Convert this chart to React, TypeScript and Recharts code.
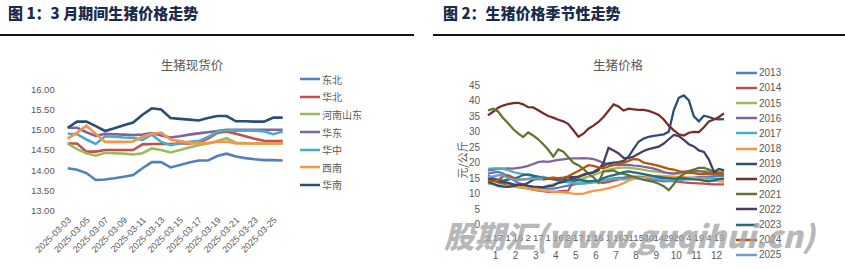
import React from "react";
import { LineChart, Line, XAxis, YAxis } from "recharts";

const FONT = '"Liberation Sans", "Noto Sans CJK SC", sans-serif';
const GRAY = "#595959";

// ---- 图1：3月期间生猪现货价 ----
const spotDates = [
  "2025-03-03", "2025-03-04", "2025-03-05", "2025-03-06", "2025-03-07", "2025-03-08",
  "2025-03-09", "2025-03-10", "2025-03-11", "2025-03-12", "2025-03-13", "2025-03-14",
  "2025-03-15", "2025-03-16", "2025-03-17", "2025-03-18", "2025-03-19", "2025-03-20",
  "2025-03-21", "2025-03-22", "2025-03-23", "2025-03-24", "2025-03-25", "2025-03-26",
];
const northeast = [14.05, 14.01, 13.93, 13.76, 13.77, 13.8, 13.84, 13.88, 14.05, 14.2, 14.2, 14.07, 14.13, 14.19, 14.24, 14.24, 14.35, 14.41, 14.34, 14.3, 14.27, 14.25, 14.25, 14.24];
const north = [14.66, 14.66, 14.46, 14.46, 14.5, 14.5, 14.5, 14.5, 14.64, 14.65, 14.65, 14.65, 14.66, 14.66, 14.68, 14.78, 14.92, 14.96, 14.9, 14.84, 14.78, 14.73, 14.72, 14.72];
const henanShandong = [14.66, 14.52, 14.42, 14.36, 14.43, 14.42, 14.41, 14.39, 14.42, 14.54, 14.5, 14.44, 14.5, 14.56, 14.62, 14.66, 14.72, 14.79, 14.68, 14.67, 14.66, 14.66, 14.66, 14.66];
const east = [15.05, 15.05, 14.94, 14.85, 14.9, 14.89, 14.88, 14.87, 14.88, 14.92, 14.86, 14.81, 14.84, 14.88, 14.91, 14.94, 14.97, 15.0, 15.0, 15.0, 15.0, 15.0, 15.0, 15.0];
const central = [14.9, 14.89, 14.76, 14.65, 14.84, 14.83, 14.81, 14.8, 14.75, 14.88, 14.7, 14.62, 14.66, 14.7, 14.72, 14.82, 14.95, 14.99, 14.98, 14.98, 14.98, 14.96, 14.89, 14.96];
const southwest = [14.78, 14.93, 15.1, 14.9, 14.7, 14.7, 14.7, 14.71, 14.83, 14.9, 14.93, 14.76, 14.72, 14.68, 14.67, 14.67, 14.7, 14.71, 14.66, 14.66, 14.66, 14.66, 14.66, 14.67];
const south = [15.05, 15.2, 15.2, 15.09, 14.97, 15.04, 15.11, 15.18, 15.37, 15.53, 15.5, 15.29, 15.27, 15.25, 15.23, 15.29, 15.34, 15.34, 15.21, 15.21, 15.2, 15.2, 15.3, 15.3];
const spotTicks = [13, 13.5, 14, 14.5, 15, 15.5, 16];

const spotSeries = [
  { name: "东北", values: northeast, color: "#4F81BD" },
  { name: "华北", values: north, color: "#C0504D" },
  { name: "河南山东", values: henanShandong, color: "#9BBB59" },
  { name: "华东", values: east, color: "#8064A2" },
  { name: "华中", values: central, color: "#4BACC6" },
  { name: "西南", values: southwest, color: "#F79646" },
  { name: "华南", values: south, color: "#2C4D75" },
];

// ---- 图2：生猪价格季节性走势 ----
const seasonMonths = [1, 2, 3, 4, 5, 6, 7, 8, 9, 10, 11, 12];
const seasonDayTicks = ["2", "17", "1", "16", "2", "17", "1", "16", "2", "17", "1", "16", "1", "16", "31", "15", "30", "14", "29", "20", "4", "19", "4", "19"];
const seasonTicks = [0, 5, 10, 15, 20, 25, 30, 35, 40, 45];

const y2013 = [16.5, 16.8, 17.0, 16.5, 15.5, 14.5, 13.5, 13.0, 12.5, 12.0, 11.8, 11.8, 11.6, 11.6, 11.9, 12.3, 12.6, 12.9, 13.2, 13.3, 13.5, 13.7, 13.9, 14.2, 14.6, 14.9, 15.1, 15.2, 15.4, 15.5, 15.5, 15.4, 15.3, 15.2, 15.1, 15.0, 15.0, 14.9, 14.9, 15.0, 15.1, 15.2, 15.3, 15.4, 15.5, 15.6, 15.7, 15.8];
const y2014 = [14.5, 14.2, 13.6, 13.2, 13.0, 12.8, 12.5, 12.0, 11.6, 11.3, 11.0, 10.8, 10.6, 10.6, 10.7, 10.9, 11.0, 14.0, 14.3, 14.3, 14.0, 13.8, 13.6, 13.5, 13.8, 14.2, 14.6, 15.0, 15.2, 15.3, 15.1, 14.8, 14.6, 14.3, 14.2, 14.0, 14.1, 14.0, 13.8, 13.6, 13.5, 13.4, 13.3, 13.2, 13.1, 13.0, 13.0, 13.0];
const y2015 = [13.2, 13.0, 12.8, 12.6, 12.5, 12.3, 12.0, 11.8, 11.7, 11.8, 11.9, 12.1, 12.6, 13.0, 13.4, 13.8, 14.1, 14.3, 14.6, 15.0, 15.5, 16.0, 16.6, 17.2, 17.8, 18.1, 18.3, 18.4, 18.4, 18.2, 18.0, 17.7, 17.4, 17.2, 17.0, 16.8, 16.6, 16.5, 16.5, 16.6, 16.8, 17.0, 17.2, 17.3, 17.3, 17.2, 17.1, 17.0];
const y2016 = [17.5, 17.7, 18.0, 18.1, 18.2, 18.1, 18.3, 18.6, 19.0, 19.6, 20.2, 20.4, 20.3, 20.6, 20.9, 21.1, 21.3, 21.4, 21.4, 21.5, 21.4, 21.2, 20.6, 20.0, 19.5, 19.3, 19.2, 19.4, 19.3, 19.1, 19.0, 18.7, 18.4, 18.1, 17.6, 17.0, 16.6, 16.5, 16.8, 17.1, 17.3, 17.4, 17.3, 17.0, 16.8, 16.6, 16.6, 16.5];
const y2017 = [18.0, 18.2, 18.2, 18.0, 17.6, 17.0, 16.6, 16.3, 16.0, 15.7, 15.5, 15.4, 15.0, 14.6, 14.2, 13.8, 13.6, 13.4, 13.2, 13.3, 13.4, 13.6, 13.9, 14.2, 14.6, 14.8, 14.8, 14.6, 14.8, 15.0, 15.1, 15.0, 14.9, 14.7, 14.5, 14.4, 14.3, 14.4, 14.3, 14.5, 14.6, 14.8, 15.0, 15.1, 15.0, 14.9, 14.7, 14.6];
const y2018 = [15.2, 14.8, 14.2, 14.0, 13.3, 13.0, 12.6, 12.2, 11.8, 11.4, 11.1, 11.0, 10.8, 10.6, 10.5, 10.4, 10.2, 10.0, 9.9, 10.0, 10.5, 10.9, 11.1, 11.4, 11.8, 12.2, 12.7, 13.4, 14.2, 14.8, 15.1, 15.2, 15.4, 15.5, 15.8, 15.7, 15.6, 15.5, 15.4, 15.3, 15.2, 15.0, 14.9, 14.7, 14.4, 14.2, 14.0, 14.0];
const y2019 = [13.8, 13.2, 12.5, 12.3, 12.2, 12.4, 12.8, 12.8, 13.5, 14.5, 14.8, 14.6, 14.8, 14.8, 14.7, 15.0, 15.3, 15.3, 15.5, 16.0, 16.5, 17.0, 18.0, 19.0, 19.8, 20.0, 20.2, 20.6, 22.0, 24.5, 26.8, 27.8, 28.4, 28.7, 28.9, 29.2, 30.0, 37.0, 41.0, 41.8, 40.2, 35.0, 33.4, 35.2, 34.8, 34.2, 34.0, 34.1];
const y2020 = [35.3, 36.5, 37.8, 38.5, 39.0, 39.3, 39.4, 38.9, 38.0, 37.9, 37.0, 36.0, 35.1, 34.6, 33.9, 33.4, 32.5, 30.5, 28.4, 29.4, 31.0, 32.0, 33.2, 34.8, 36.8, 38.9, 38.2, 36.9, 37.5, 37.3, 37.1, 37.1, 36.8, 36.2, 35.5, 34.0, 32.0, 30.5, 29.2, 28.8, 29.7, 30.0, 29.9, 31.5, 33.4, 34.0, 34.8, 36.0];
const y2021 = [36.9, 37.5, 36.6, 34.5, 32.8, 30.9, 29.5, 28.3, 29.8, 28.8, 27.6, 26.0, 24.2, 22.0, 24.3, 23.6, 21.8, 20.0, 19.2, 18.0, 16.4, 15.3, 13.5, 17.2, 17.3, 17.5, 16.7, 16.4, 16.0, 15.4, 14.9, 14.4, 14.1, 13.8, 13.2, 12.4, 11.1, 13.0, 15.3, 16.3, 17.3, 17.8, 18.3, 18.3, 17.8, 17.0, 16.7, 16.5];
const y2022 = [15.0, 14.5, 14.0, 13.8, 13.5, 13.0, 12.8, 12.9, 12.5, 12.3, 12.2, 12.0, 12.4, 12.6, 13.5, 13.8, 14.5, 15.0, 15.4, 16.2, 16.6, 16.8, 17.5, 20.0, 24.8, 24.0, 23.0, 21.6, 21.5, 22.0, 22.9, 23.8, 24.4, 24.8, 25.2, 26.2, 27.6, 29.0, 28.6, 27.4, 26.0, 25.3, 24.0, 23.5, 21.0, 17.0, 18.0, 17.5];
const y2023 = [15.8, 15.0, 14.5, 14.2, 14.5, 14.9, 15.3, 16.0, 16.2, 15.8, 15.4, 15.0, 14.8, 14.7, 14.5, 14.6, 14.4, 14.3, 14.5, 14.2, 14.0, 14.1, 14.3, 15.0, 15.6, 16.0, 16.4, 17.0, 17.2, 16.9, 16.6, 16.3, 16.0, 15.7, 15.4, 15.2, 15.0, 14.8, 14.9, 15.0, 14.8, 14.6, 14.5, 14.2, 14.0, 14.3, 14.7, 14.9];
const y2024 = [14.2, 14.0, 14.3, 15.6, 16.0, 15.2, 14.5, 14.6, 14.8, 15.0, 15.0, 14.9, 15.0, 15.2, 15.0, 15.2, 15.6, 16.5, 17.3, 18.3, 19.2, 19.0, 18.5, 18.2, 18.8, 19.2, 19.6, 20.0, 20.6, 21.2, 21.0, 20.0, 19.7, 19.4, 19.0, 18.5, 18.0, 17.8, 17.3, 17.0, 16.7, 16.6, 16.3, 16.3, 16.5, 16.2, 16.3, 16.3];
const y2025 = [15.4, 15.6, 15.9, 16.0, 15.0, 14.6, 14.5, 14.6, 14.7, 14.8, 14.9, 14.7];

const seasonSeries = [
  { name: "2013", values: y2013, color: "#4F81BD" },
  { name: "2014", values: y2014, color: "#C0504D" },
  { name: "2015", values: y2015, color: "#9BBB59" },
  { name: "2016", values: y2016, color: "#8064A2" },
  { name: "2017", values: y2017, color: "#4BACC6" },
  { name: "2018", values: y2018, color: "#F79646" },
  { name: "2019", values: y2019, color: "#2C4D75" },
  { name: "2020", values: y2020, color: "#772C2A" },
  { name: "2021", values: y2021, color: "#5F7530" },
  { name: "2022", values: y2022, color: "#4D3B62" },
  { name: "2023", values: y2023, color: "#276A7C" },
  { name: "2024", values: y2024, color: "#B65708" },
  { name: "2025", values: y2025, color: "#729ACA" },
];

const spotData = spotDates.map((date, i) => {
  const row: Record<string, any> = { date };
  spotSeries.forEach((s) => (row[s.name] = s.values[i]));
  return row;
});

const SLOTS = seasonMonths.length * 4;
const seasonData = Array.from({ length: SLOTS }, (_, i) => {
  const row: Record<string, any> = { slot: i };
  seasonSeries.forEach((s) => (row[s.name] = s.values[i]));
  return row;
});

// layout
const SPOT_W = 420;
const SPOT_H = 269;
const SPOT_TOP = 89.3;
const SPOT_BOTTOM = 210.7;
const SPOT_LEFT = 67.7;
const SPOT_RIGHT = 282.7;

const SEA_X = 430;
const SEA_W = 415;
const SEA_H = 269;
const SEA_TOP = 85.5;
const SEA_BOTTOM = 224.5;
const SEA_LEFT = 58;
const SEA_RIGHT = 294;
const SEA_STEP = (SEA_RIGHT - SEA_LEFT) / (SLOTS - 1);

function SpotDateTick({ x, payload }: any) {
  const ax = x + 4;
  const ay = SPOT_BOTTOM + 10;
  return (
    <text x={ax} y={ay} transform={`rotate(-45, ${ax}, ${ay})`} textAnchor="end" fontSize={9} fill={GRAY} fontFamily={FONT}>
      {payload.value}
    </text>
  );
}

function SeasonTick({ x, payload }: any) {
  const i = Number(payload.value);
  return (
    <g fontSize={9.5} fill={GRAY} fontFamily={FONT}>
      {i % 2 === 0 && (
        <text x={x} y={240.5} textAnchor="middle" fill={GRAY}>
          {seasonDayTicks[i / 2]}
        </text>
      )}
      {i % 4 === 1 && (
        <text x={x + SEA_STEP / 2} y={258.5} textAnchor="middle" fill={GRAY} fontSize={10}>
          {seasonMonths[(i - 1) / 4]}
        </text>
      )}
    </g>
  );
}

function SeriesLegend({ items, left, top, rowH, swatch, fontSize, lineW }: any) {
  return (
    <div style={{ position: "absolute", left, top, fontFamily: FONT, fontSize, color: GRAY }}>
      {items.map((s: any) => (
        <div key={s.name} style={{ height: rowH, display: "flex", alignItems: "center", whiteSpace: "nowrap" }}>
          <svg width={swatch} height={6} style={{ marginRight: 2 }}>
            <line x1={0} y1={3} x2={swatch} y2={3} stroke={s.color} strokeWidth={lineW} />
          </svg>
          <span>{s.name}</span>
        </div>
      ))}
    </div>
  );
}

const headStyle: React.CSSProperties = {
  position: "absolute",
  top: 4,
  fontFamily: '"Noto Sans CJK SC", sans-serif',
  fontWeight: 900,
  fontSize: 15,
  lineHeight: "18px",
  color: "#1c2b4a",
  whiteSpace: "pre",
};

const titleStyle: React.CSSProperties = {
  position: "absolute",
  top: 56,
  fontFamily: '"Noto Sans CJK SC", sans-serif',
  fontSize: 12.5,
  lineHeight: "18px",
  color: GRAY,
  transform: "translateX(-50%)",
  whiteSpace: "nowrap",
};

export default function App() {
  return (
    <div style={{ position: "absolute", left: 0, top: 0, width: 845, height: 269, background: "#fff", overflow: "hidden" }}>
      <div style={{ ...headStyle, left: 8 }}>图 1：3 月期间生猪价格走势</div>
      <div style={{ ...headStyle, left: 443 }}>图 2：生猪价格季节性走势</div>
      <div style={{ position: "absolute", left: 0, top: 34, width: 414, height: 1.5, background: "#111" }} />
      <div style={{ position: "absolute", left: 433, top: 34, width: 412, height: 1.5, background: "#111" }} />

      <div style={{ ...titleStyle, left: 192 }}>生猪现货价</div>
      <div style={{ ...titleStyle, left: 618 }}>生猪价格</div>

      <div style={{ position: "absolute", left: 0, top: 0, width: SPOT_W, height: SPOT_H }}>
        <LineChart
          width={SPOT_W}
          height={SPOT_H}
          data={spotData}
          margin={{ top: SPOT_TOP, right: SPOT_W - SPOT_RIGHT, bottom: SPOT_H - SPOT_BOTTOM - 50, left: 0 }}
        >
          <XAxis dataKey="date" interval={1} axisLine={false} tickLine={false} height={50} tick={<SpotDateTick />} />
          <YAxis
            domain={[13, 16]}
            ticks={spotTicks}
            interval={0}
            width={SPOT_LEFT}
            axisLine={false}
            tickLine={false}
            tickMargin={7}
            tickFormatter={(v: number) => v.toFixed(2)}
            tick={{ fontSize: 9.5, fill: GRAY, fontFamily: FONT }}
          />
          {spotSeries.map((s) => (
            <Line
              key={s.name}
              dataKey={s.name}
              name={s.name}
              stroke={s.color}
              strokeWidth={2.6}
              dot={false}
              activeDot={false}
              isAnimationActive={false}
            />
          ))}
        </LineChart>
      </div>
      <SeriesLegend items={spotSeries} left={300} top={70.5} rowH={17.6} swatch={20} fontSize={10} lineW={2.5} />

      <div style={{ position: "absolute", left: SEA_X, top: 0, width: SEA_W, height: SEA_H }}>
        <LineChart
          width={SEA_W}
          height={SEA_H}
          data={seasonData}
          margin={{ top: SEA_TOP, right: SEA_W - SEA_RIGHT, bottom: SEA_H - SEA_BOTTOM - 40, left: 0 }}
        >
          <XAxis dataKey="slot" interval={0} axisLine={false} tickLine={false} height={40} tick={<SeasonTick />} />
          <YAxis
            domain={[0, 45]}
            ticks={seasonTicks}
            interval={0}
            width={SEA_LEFT}
            axisLine={false}
            tickLine={false}
            tick={{ fontSize: 10, fill: GRAY, fontFamily: FONT }}
          />
          {seasonSeries.map((s) => (
            <Line
              key={s.name}
              dataKey={s.name}
              name={s.name}
              stroke={s.color}
              strokeWidth={2.25}
              dot={false}
              activeDot={false}
              isAnimationActive={false}
            />
          ))}
        </LineChart>
      </div>
      <SeriesLegend items={seasonSeries} left={736} top={65.1} rowH={15.19} swatch={21} fontSize={10} lineW={2.5} />

      <div
        style={{
          position: "absolute",
          left: 462,
          top: 160,
          transform: "translate(-50%, -50%) rotate(-90deg)",
          fontFamily: '"Noto Sans CJK SC", sans-serif',
          fontSize: 11,
          color: GRAY,
          whiteSpace: "nowrap",
        }}
      >
        元/公斤
      </div>

      <div
        style={{
          position: "absolute",
          left: 444,
          top: 218,
          fontFamily: '"Noto Sans CJK SC", sans-serif',
          fontWeight: 900,
          fontStyle: "italic",
          fontSize: 30.5,
          lineHeight: "34px",
          letterSpacing: 0,
          color: "rgba(165,165,165,0.8)",
          whiteSpace: "nowrap",
        }}
      >
        股期汇(www.guqihui.cn)
      </div>
    </div>
  );
}
